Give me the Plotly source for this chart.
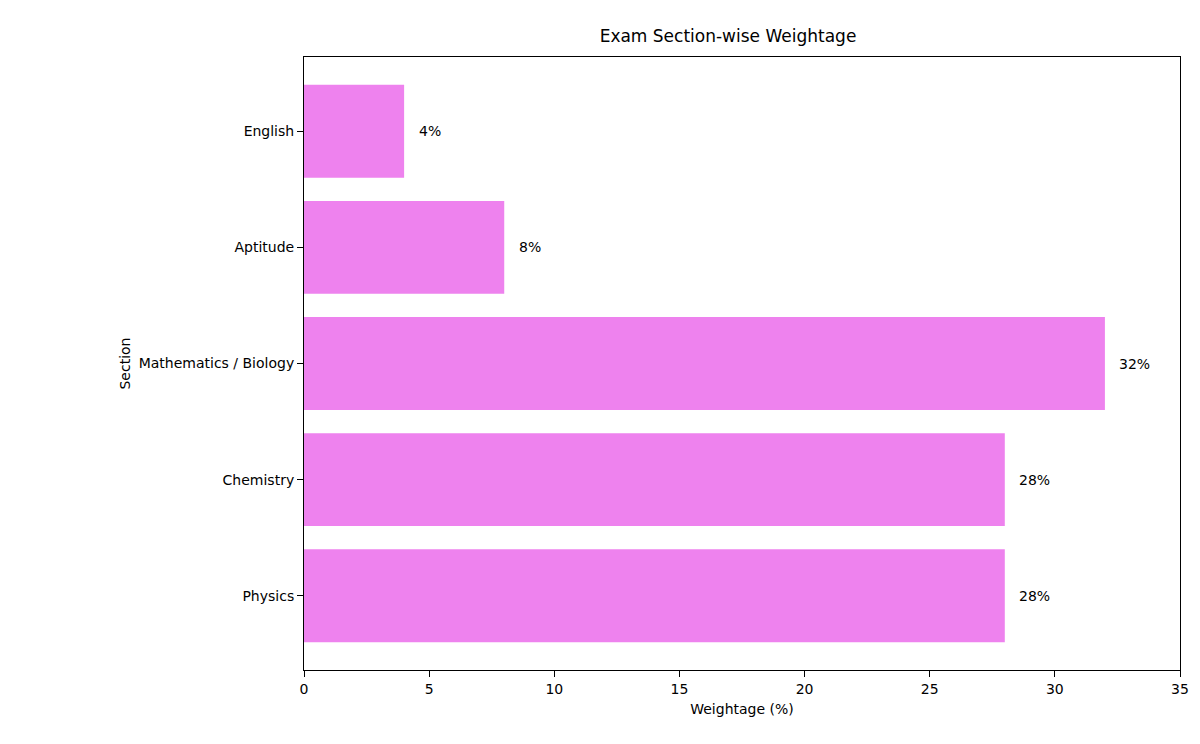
import plotly.graph_objects as go

sections = ["Physics", "Chemistry", "Mathematics / Biology", "Aptitude", "English"]
weights = [28, 28, 32, 8, 4]
labels = ["28%", "28%", "32%", "8%", "4%"]

fig = go.Figure(go.Bar(x=weights, y=sections, orientation="h", width=0.8,
                       marker=dict(color="#EE82EE", line=dict(width=0))))
for s, w, l in zip(sections, weights, labels):
    fig.add_annotation(x=w + 0.5, y=s, text=l, showarrow=False, xanchor="left",
                       font=dict(size=14, color="#000"))
axis_common = dict(showline=True, linecolor="black", linewidth=1, mirror=True,
                   ticks="outside", ticklen=6, tickcolor="black", showgrid=False,
                   zeroline=False, tickfont=dict(size=14, color="#000"))
fig.update_layout(
    width=1200, height=744, plot_bgcolor="white", paper_bgcolor="white",
    font=dict(family="DejaVu Sans", color="#000"),
    margin=dict(l=296, r=28, t=49, b=82),
    title=dict(text="Exam Section-wise Weightage", x=0.6, xanchor="center", y=0.962,
               yanchor="middle", font=dict(size=17)),
    xaxis=dict(range=[0, 35], tickvals=[0, 5, 10, 15, 20, 25, 30, 35],
               title=dict(text="Weightage (%)", font=dict(size=14), standoff=8), **axis_common),
    yaxis=dict(range=[-0.64, 4.64], title=dict(text="Section", font=dict(size=14), standoff=4),
               **axis_common),
    showlegend=False,
)
fig.write_html("out.html")
